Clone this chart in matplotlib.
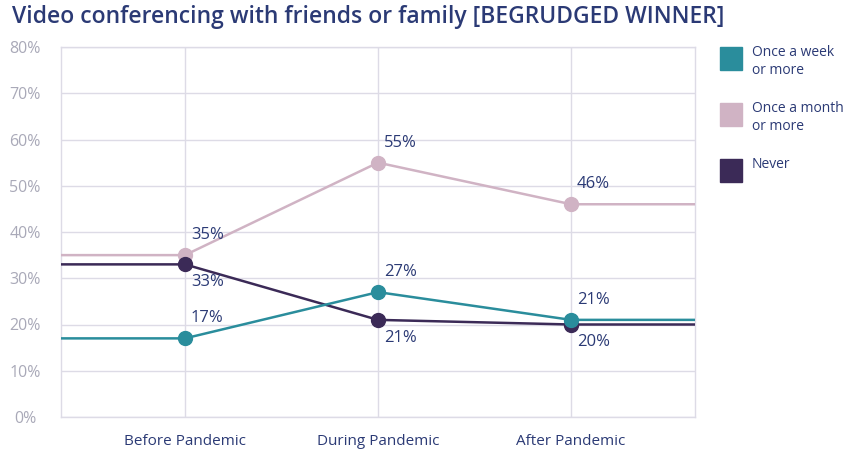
import numpy as np
import matplotlib
matplotlib.use('Agg')
import matplotlib.pyplot as plt
from matplotlib.patches import Rectangle

plt.rcParams['font.family'] = ['Open Sans', 'DejaVu Sans']

categories = ['Before Pandemic', 'During Pandemic', 'After Pandemic']
series_names = ['Once a week\nor more', 'Once a month\nor more', 'Never']
weekly = [17, 27, 21]
monthly = [35, 55, 46]
never = [33, 21, 20]
yticks = [0, 10, 20, 30, 40, 50, 60, 70, 80]

teal = '#2a8d9c'
pink = '#d0b3c4'
dark = '#3b2a57'
navy = '#2b3a75'
grid_c = '#dddbe6'

fig = plt.figure(figsize=(8.56, 4.70), dpi=100)
ax = fig.add_axes([61/856, 53/470, 634/856, 370/470])

x = np.arange(len(categories))
xmin, xmax = -0.642, 2.642
ax.set_xlim(xmin, xmax)
ax.set_ylim(0, 80)

# series, drawing order pink -> dark -> teal, label offset (px) in y
series = [(monthly, pink, 20, 3), (never, dark, -18, 4), (weekly, teal, 20, 5)]
for vals, col, dy, z in series:
    xs = [xmin] + list(x) + [xmax]
    ys = [vals[0]] + list(vals) + [vals[-1]]
    ax.plot(xs, ys, color=col, lw=1.8, zorder=z, solid_capstyle='butt')
    ax.plot(x, vals, 'o', color=col, ms=10, zorder=z)
    for xi, v in zip(x, vals):
        ax.annotate(f'{v}%', (xi, v), xytext=(6, dy), textcoords='offset pixels',
                    ha='left', va='center', fontsize=12, color=navy, zorder=6)

ax.set_yticks(yticks)
ax.set_yticklabels([f'{t}%' for t in yticks])
ax.set_xticks(x)
ax.set_xticklabels(categories)
ax.tick_params(axis='y', length=0, pad=26, labelsize=11.5, labelcolor='#a9a9b8')
ax.tick_params(axis='x', length=0, pad=12, labelsize=11, labelcolor=navy)
for lbl in ax.get_yticklabels():
    lbl.set_ha('center')
ax.grid(True, color=grid_c, lw=1, zorder=0)
for s in ax.spines.values():
    s.set_color(grid_c)
    s.set_linewidth(1)

fig.text(12/856, 1 - 17/470, 'Video conferencing with friends or family [BEGRUDGED WINNER]',
         fontsize=16.5, color=navy, fontweight='semibold', ha='left', va='center')

# legend
leg_y = [47, 103, 159]
for name, col, yy in zip(series_names, [teal, pink, dark], leg_y):
    fig.patches.append(Rectangle((720/856, 1 - (yy + 23)/470), 22/856, 23/470,
                                 transform=fig.transFigure, color=col))
    fig.text(752/856, 1 - (yy - 2)/470, name, fontsize=10, color=navy,
             ha='left', va='top', linespacing=1.25)

fig.savefig('out.png', dpi=100)
